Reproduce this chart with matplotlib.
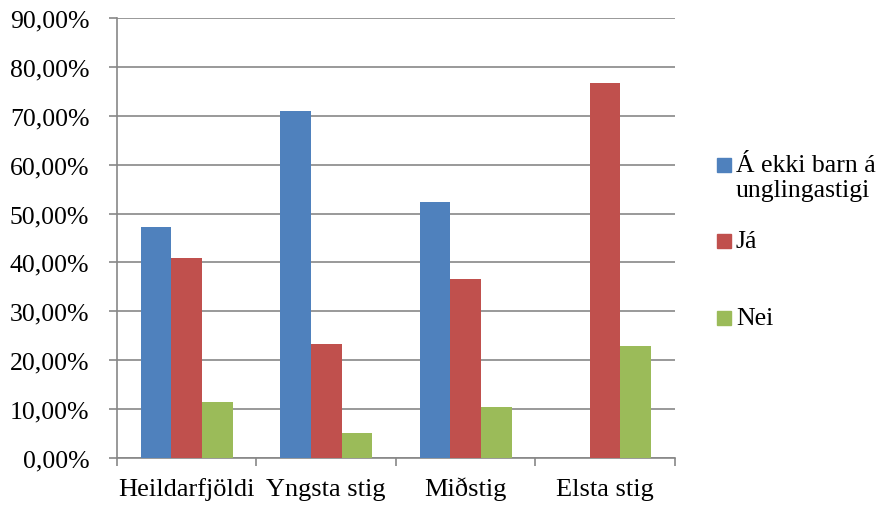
import numpy as np
import matplotlib
matplotlib.use('Agg')
import matplotlib.pyplot as plt
from matplotlib.patches import Rectangle
from matplotlib.ticker import FixedLocator, FuncFormatter

plt.rcParams['font.family'] = ['Liberation Serif', 'DejaVu Serif']

categories = ['Heildarfjöldi', 'Yngsta stig', 'Miðstig', 'Elsta stig']
series_names = ['Á ekki barn á\nunglingastigi', 'Já', 'Nei']
a_ekki = [47.3, 71.0, 52.4, 0.0]
ja = [41.0, 23.4, 36.7, 76.8]
nei = [11.4, 5.2, 10.4, 22.9]
colors = ['#4F81BD', '#C0504D', '#9BBB59']

fs = 18.5

fig = plt.figure(figsize=(8.82, 5.06), dpi=100)
ax = fig.add_axes([0.1327, 0.0929, 0.6323, 0.8696])

x = np.arange(len(categories))
w = 0.22
for i, vals in enumerate([a_ekki, ja, nei]):
    ax.bar(x + (i - 1) * w, vals, width=w, color=colors[i], zorder=3)

ax.set_xlim(-0.5, len(categories) - 0.5)
ax.set_ylim(0, 90)
ax.set_yticks(np.arange(0, 91, 10))
ax.yaxis.set_major_formatter(FuncFormatter(lambda v, p: f'{v:.2f}'.replace('.', ',') + '%'))
ax.grid(axis='y', color='#878787', linewidth=1.2, zorder=0)

ax.set_xticks(x)
ax.set_xticklabels(categories, va='baseline')
ax.xaxis.set_minor_locator(FixedLocator(np.arange(-0.5, len(categories), 1)))
ax.tick_params(axis='x', which='major', length=0, labelsize=19, pad=27)
ax.tick_params(axis='x', which='minor', length=6, color='#878787', width=1.2)
ax.tick_params(axis='y', length=6, color='#878787', width=1.2, labelsize=fs, pad=14)

for s in ['top', 'right']:
    ax.spines[s].set_visible(False)
for s in ['left', 'bottom']:
    ax.spines[s].set_color('#878787')
    ax.spines[s].set_linewidth(1.2)

# legend drawn by hand: Excel puts the square at the first text line
# and spaces entries by their first lines
leg_y = [166, 242, 319]  # pixel rows of each entry's first line
for name, col, yp in zip(series_names, colors, leg_y):
    yf = 1 - yp / 506
    fig.patches.append(Rectangle((717 / 882, yf - 7 / 506), 14 / 882, 14 / 506,
                                 transform=fig.transFigure, color=col))
    fig.text(736 / 882, yf + 11 / 506, name, fontsize=fs, va='top', ha='left',
             linespacing=1.17)

fig.savefig('out.png', dpi=100)
